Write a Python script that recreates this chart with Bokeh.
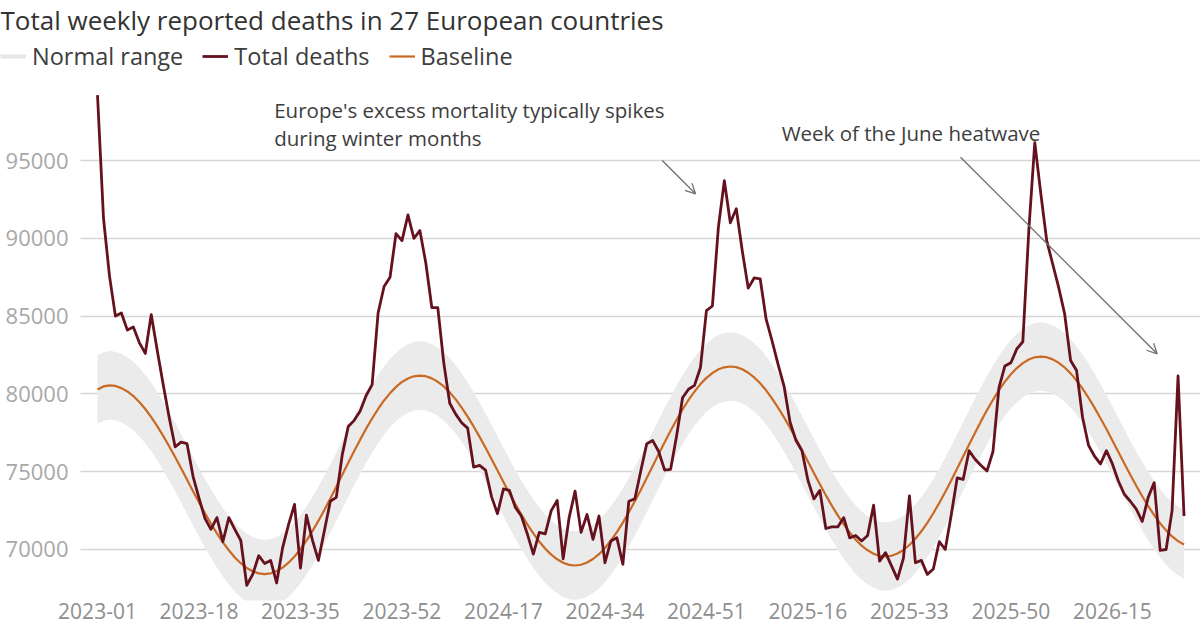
from bokeh.plotting import figure
from bokeh.models import (Range1d, FixedTicker, BasicTickFormatter, Legend, LegendItem,
                          Label, Arrow, OpenHead, ColumnDataSource)
from bokeh.embed import file_html
from bokeh.resources import INLINE

title_text = "Total weekly reported deaths in 27 European countries"
note_winter = ["Europe's excess mortality typically spikes", "during winter months"]
note_heatwave = "Week of the June heatwave"

total_deaths = [
    99200, 91300, 87600, 85000, 85200, 84100, 84300, 83300, 82600, 85100,
    82800, 80600, 78500, 76600, 76900, 76800, 74700, 73300, 72000, 71300,
    72050, 70500, 72050, 71300, 70580, 67700, 68400, 69600, 69100, 69300,
    67850, 70100, 71600, 72900, 68800, 72200, 70600, 69300, 71200, 73100,
    73350, 76100, 77900, 78300, 78900, 79900, 80600, 85200, 86900, 87500,
    90300, 89850, 91500, 90000, 90500, 88400, 85550, 85550, 82000, 79400,
    78700, 78150, 77800, 75300, 75400, 75100, 73400, 72300, 73900, 73800,
    72700, 72150, 71000, 69700, 71100, 71000, 72500, 73150, 69400, 72050,
    73750, 71100, 72250, 70650, 72150, 69150, 70550, 70750, 69050, 73100,
    73250, 75050, 76800, 77000, 76300, 75100, 75150, 77300, 79750, 80300,
    80550, 81700, 85350, 85650, 90700, 93700, 91000, 91900, 89200, 86800,
    87450, 87400, 84800, 83400, 81900, 80500, 78200, 77000, 76350, 74450,
    73250, 73800, 71350, 71450, 71450, 72050, 70750, 70900, 70550, 70900,
    72850, 69250, 69800, 68950, 68100, 69450, 73450, 69150, 69300, 68400,
    68750, 70500, 70000, 72200, 74600, 74500, 76350, 75800, 75400, 75050,
    76300, 80400, 81800, 82000, 82900, 83350, 90500, 96150, 92900, 89850,
    88350, 86850, 85150, 82150, 81500, 78500, 76700, 76000, 75500, 76350,
    75500, 74400, 73550, 73100, 72600, 71800, 73350, 74300, 69950, 70000,
    72500, 81150, 72150,
]

baseline = [
    80280, 80480, 80550, 80510, 80370, 80160, 79860, 79480, 79030, 78510,
    77930, 77300, 76640, 75940, 75220, 74490, 73750, 73030, 72330, 71670,
    71040, 70460, 69950, 69490, 69120, 68810, 68600, 68460, 68420, 68470,
    68610, 68840, 69150, 69550, 70020, 70570, 71180, 71840, 72540, 73270,
    74030, 74800, 75570, 76330, 77060, 77770, 78420, 79030, 79580, 80050,
    80450, 80770, 80990, 81130, 81180, 81140, 81000, 80780, 80480, 80100,
    79650, 79120, 78540, 77910, 77240, 76540, 75810, 75080, 74340, 73610,
    72910, 72240, 71610, 71030, 70510, 70050, 69670, 69370, 69150, 69010,
    68970, 69020, 69160, 69390, 69700, 70100, 70580, 71120, 71730, 72390,
    73100, 73830, 74590, 75370, 76140, 76900, 77630, 78340, 79000, 79610,
    80150, 80630, 81030, 81340, 81580, 81710, 81760, 81720, 81580, 81360,
    81060, 80680, 80230, 79700, 79120, 78490, 77820, 77120, 76390, 75660,
    74920, 74190, 73490, 72820, 72190, 71610, 71090, 70630, 70250, 69950,
    69730, 69590, 69550, 69600, 69740, 69970, 70290, 70690, 71170, 71710,
    72330, 72990, 73700, 74440, 75200, 75980, 76750, 77510, 78250, 78960,
    79620, 80240, 80790, 81260, 81660, 81980, 82210, 82350, 82400, 82360,
    82220, 82000, 81700, 81320, 80860, 80340, 79750, 79120, 78440, 77740,
    77010, 76270, 75530, 74800, 74100, 73420, 72790, 72210, 71680, 71230,
    70840, 70540, 70320,
]

normal_low = [
    78080, 78280, 78350, 78310, 78170, 77960, 77660, 77280, 76830, 76310,
    75730, 75100, 74440, 73740, 73020, 72290, 71550, 70830, 70130, 69470,
    68840, 68260, 67750, 67290, 66920, 66610, 66400, 66260, 66220, 66270,
    66410, 66640, 66950, 67350, 67820, 68370, 68980, 69640, 70340, 71070,
    71830, 72600, 73370, 74130, 74860, 75570, 76220, 76830, 77380, 77850,
    78250, 78570, 78790, 78930, 78980, 78940, 78800, 78580, 78280, 77900,
    77450, 76920, 76340, 75710, 75040, 74340, 73610, 72880, 72140, 71410,
    70710, 70040, 69410, 68830, 68310, 67850, 67470, 67170, 66950, 66810,
    66770, 66820, 66960, 67190, 67500, 67900, 68380, 68920, 69530, 70190,
    70900, 71630, 72390, 73170, 73940, 74700, 75430, 76140, 76800, 77410,
    77950, 78430, 78830, 79140, 79380, 79510, 79560, 79520, 79380, 79160,
    78860, 78480, 78030, 77500, 76920, 76290, 75620, 74920, 74190, 73460,
    72720, 71990, 71290, 70620, 69990, 69410, 68890, 68430, 68050, 67750,
    67530, 67390, 67350, 67400, 67540, 67770, 68090, 68490, 68970, 69510,
    70130, 70790, 71500, 72240, 73000, 73780, 74550, 75310, 76050, 76760,
    77420, 78040, 78590, 79060, 79460, 79780, 80010, 80150, 80200, 80160,
    80020, 79800, 79500, 79120, 78660, 78140, 77550, 76920, 76240, 75540,
    74810, 74070, 73330, 72600, 71900, 71220, 70590, 70010, 69480, 69030,
    68640, 68340, 68120,
]

normal_high = [
    82480, 82680, 82750, 82710, 82570, 82360, 82060, 81680, 81230, 80710,
    80130, 79500, 78840, 78140, 77420, 76690, 75950, 75230, 74530, 73870,
    73240, 72660, 72150, 71690, 71320, 71010, 70800, 70660, 70620, 70670,
    70810, 71040, 71350, 71750, 72220, 72770, 73380, 74040, 74740, 75470,
    76230, 77000, 77770, 78530, 79260, 79970, 80620, 81230, 81780, 82250,
    82650, 82970, 83190, 83330, 83380, 83340, 83200, 82980, 82680, 82300,
    81850, 81320, 80740, 80110, 79440, 78740, 78010, 77280, 76540, 75810,
    75110, 74440, 73810, 73230, 72710, 72250, 71870, 71570, 71350, 71210,
    71170, 71220, 71360, 71590, 71900, 72300, 72780, 73320, 73930, 74590,
    75300, 76030, 76790, 77570, 78340, 79100, 79830, 80540, 81200, 81810,
    82350, 82830, 83230, 83540, 83780, 83910, 83960, 83920, 83780, 83560,
    83260, 82880, 82430, 81900, 81320, 80690, 80020, 79320, 78590, 77860,
    77120, 76390, 75690, 75020, 74390, 73810, 73290, 72830, 72450, 72150,
    71930, 71790, 71750, 71800, 71940, 72170, 72490, 72890, 73370, 73910,
    74530, 75190, 75900, 76640, 77400, 78180, 78950, 79710, 80450, 81160,
    81820, 82440, 82990, 83460, 83860, 84180, 84410, 84550, 84600, 84560,
    84420, 84200, 83900, 83520, 83060, 82540, 81950, 81320, 80640, 79940,
    79210, 78470, 77730, 77000, 76300, 75620, 74990, 74410, 73880, 73430,
    73040, 72740, 72520,
]

tick_labels = ["2023-01", "2023-18", "2023-35", "2023-52", "2024-17", "2024-34",
               "2024-51", "2025-16", "2025-33", "2025-50", "2026-15"]
y_ticks = [70000, 75000, 80000, 85000, 90000, 95000]
legend_labels = ["Normal range", "Total deaths", "Baseline"]

# week label for each weekly observation
week_labels = [f"{yr}-{wk:02d}" for yr in (2023, 2024, 2025, 2026)
               for wk in range(1, 53)][:len(total_deaths)]
weeks = list(range(len(total_deaths)))
tick_pos = [week_labels.index(t) for t in tick_labels]

FONT = "Open Sans"
C_TOTAL = "#65111e"
C_BASE = "#c96a24"
C_BAND = "#ebebeb"
C_KEY_BAND = "#e6e6e6"
C_GRID = "#d6d6d6"
C_TEXT = "#3d3d3d"
C_ARROW = "#707070"
W_TOTAL = 2.8
W_BASE = 2.2

# x: week index; the plotted weeks start a little right of the y-axis line
X_LEFT, X_AXIS, X_RIGHT = -16.25, -2.85, 184.76

src = ColumnDataSource(dict(week=weeks, label=week_labels, total=total_deaths,
                            base=baseline, low=normal_low, high=normal_high))

p = figure(width=1200, height=630, output_backend="svg", toolbar_location=None,
           title=None,
           x_range=Range1d(X_LEFT, X_RIGHT), y_range=Range1d(66722, 105284),
           min_border_left=0, min_border_right=0, min_border_top=0, min_border_bottom=30)
p.outline_line_color = None

band = p.varea(x="week", y1="low", y2="high", source=src, fill_color=C_BAND)
base = p.line(x="week", y="base", source=src, line_color=C_BASE, line_width=W_BASE)
total = p.line(x="week", y="total", source=src, line_color=C_TOTAL, line_width=W_TOTAL,
               line_join="round")
# legend key for the normal range (drawn as a thin grey bar)
range_key = p.line(x=[float("nan")], y=[float("nan")], line_color=C_KEY_BAND, line_width=4)

# y axis sits at the left edge of the plotted area
p.yaxis.fixed_location = X_AXIS
p.yaxis.ticker = FixedTicker(ticks=y_ticks)
p.yaxis.formatter = BasicTickFormatter(use_scientific=False)
p.yaxis.axis_line_color = None
p.yaxis.major_tick_line_color = None
p.yaxis.minor_tick_line_color = None
p.yaxis.major_tick_out = 0
p.yaxis.major_label_standoff = 12
p.yaxis.major_label_text_font = FONT
p.yaxis.major_label_text_font_size = "22px"
p.yaxis.major_label_text_color = "#a8a8a8"

p.xaxis.ticker = FixedTicker(ticks=tick_pos)
p.xaxis.major_label_overrides = {pos: lab for pos, lab in zip(tick_pos, tick_labels)}
p.xaxis.axis_line_color = None
p.xaxis.major_tick_line_color = None
p.xaxis.minor_tick_line_color = None
p.xaxis.major_tick_out = 0
p.xaxis.major_label_standoff = 2
p.xaxis.major_label_text_font = FONT
p.xaxis.major_label_text_font_size = "21px"
p.xaxis.major_label_text_color = "#8e8e8e"

p.xgrid.visible = False
p.ygrid.ticker = FixedTicker(ticks=y_ticks)
p.ygrid.cross_bounds = (X_AXIS, X_RIGHT)
p.ygrid.grid_line_color = C_GRID
p.ygrid.grid_line_width = 1.5

# legend
legend = Legend(items=[LegendItem(label=legend_labels[0], renderers=[range_key]),
                       LegendItem(label=legend_labels[1], renderers=[total]),
                       LegendItem(label=legend_labels[2], renderers=[base])],
                orientation="horizontal", location=(0, 528),
                glyph_width=26, glyph_height=30, label_standoff=6, spacing=19,
                padding=0, margin=0, border_line_color=None, background_fill_alpha=0,
                label_text_font=FONT, label_text_font_size="23.5px", label_text_color=C_TEXT)
p.add_layout(legend)

# title
p.add_layout(Label(x=X_LEFT, y=104000, text=title_text, text_font=FONT,
                   text_font_size="26px", text_color="#333333",
                   text_baseline="middle", text_align="left"))

# annotations
p.add_layout(Label(x=29.6, y=98215, text=note_winter[0], text_font=FONT,
                   text_font_size="20.5px", text_color=C_TEXT, text_baseline="middle"))
p.add_layout(Label(x=29.6, y=96415, text=note_winter[1], text_font=FONT,
                   text_font_size="20.5px", text_color=C_TEXT, text_baseline="middle"))
p.add_layout(Label(x=114.6, y=96800, text=note_heatwave, text_font=FONT,
                   text_font_size="20.5px", text_color=C_TEXT, text_baseline="middle"))

p.add_layout(Arrow(end=OpenHead(size=10, line_color=C_ARROW, line_width=1.3),
                   x_start=94.59, y_start=95000, x_end=100.17, y_end=92861,
                   line_color=C_ARROW, line_width=1.3))
p.add_layout(Arrow(end=OpenHead(size=10, line_color=C_ARROW, line_width=1.3),
                   x_start=144.56, y_start=95213, x_end=177.5, y_end=82578,
                   line_color=C_ARROW, line_width=1.3))

open("out.html", "w").write(file_html(p, INLINE))
